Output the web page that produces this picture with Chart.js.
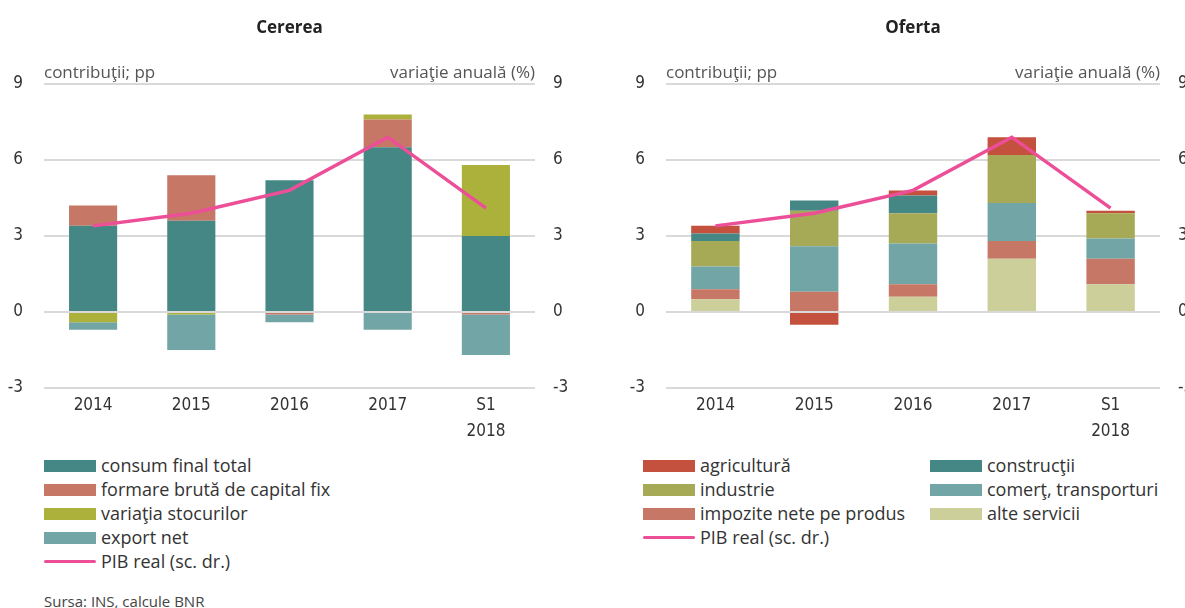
<!DOCTYPE html>
<html>
<head>
<meta charset="utf-8">
<script src="https://cdn.jsdelivr.net/npm/chart.js@4.4.1/dist/chart.umd.min.js"></script>
<style>
  body { margin: 0; width: 1185px; height: 608px; overflow: hidden; background: #fff; font-family: 'Open Sans', sans-serif; color: #333; position: relative; }
  .box { position: absolute; top: 0; width: 590px; height: 445px; }
  .legend { position: absolute; font-size: 18px; }
  .item { position: absolute; height: 24px; line-height: 24px; white-space: nowrap; }
  .sw { position: absolute; left: 0; top: 6px; width: 52px; height: 12px; }
  .ln { position: absolute; left: 0; top: 10px; width: 52px; height: 3px; border-radius: 2px; }
  .item span { position: absolute; left: 57px; top: -1px; }
  .src { position: absolute; left: 44px; top: 591px; font-size: 15px; color: #444; }
</style>
</head>
<body>
<div class="box" style="left:0"><canvas id="chartCerere"></canvas></div>
<div class="box" style="left:622px"><canvas id="chartOferta"></canvas></div>
<div class="legend" id="legendCerere" style="left:44px; top:454px"></div>
<div class="legend" id="legendOferta" style="left:643px; top:454px"></div>
<div class="src">Sursa: INS, calcule BNR</div>
<script>
// Categories and ticks
const categories = [['2014'], ['2015'], ['2016'], ['2017'], ['S1', '2018']];
const axisMin = -3, axisMax = 9, axisStep = 3;

// Cererea (contributions, pp)
const consumFinal = [3.4, 3.6, 5.2, 6.5, 3.0];
const formareCapital = [0.8, 1.8, -0.1, 1.1, -0.1];
const variatiaStocurilor = [-0.4, -0.1, 0, 0.2, 2.8];
const exportNet = [-0.3, -1.4, -0.3, -0.7, -1.6];

// Oferta (contributions, pp)
const agricultura = [0.3, -0.5, 0.2, 0.7, 0.1];
const constructii = [0.3, 0.4, 0.7, 0, 0];
const industrie = [1.0, 1.4, 1.2, 1.9, 1.0];
const comert = [0.9, 1.8, 1.6, 1.5, 0.8];
const impozite = [0.4, 0.8, 0.5, 0.7, 1.0];
const alteServicii = [0.5, 0, 0.6, 2.1, 1.1];

// PIB real (annual change, %, right scale)
const pibReal = [3.4, 3.9, 4.8, 6.9, 4.1];

const C = {
  teal: '#458784', salmon: '#c67766', olive: '#abb13b', lightTeal: '#72a5a5',
  red: '#c4503e', khaki: '#a6a955', pale: '#cccf9a', pink: '#ec4f98', grid: '#d9d9d9'
};

const tickFont = { family: "'Liberation Sans Narrow', 'DejaVu Sans Condensed', sans-serif", size: 17 };

// Titles and axis captions
const captions = {
  id: 'captions',
  afterDraw(chart, args, opts) {
    const { ctx, chartArea } = chart;
    ctx.save();
    ctx.fillStyle = '#222';
    ctx.font = "bold 17px 'Open Sans', sans-serif";
    ctx.textAlign = 'center';
    ctx.textBaseline = 'alphabetic';
    ctx.fillText(opts.title, (chartArea.left + chartArea.right) / 2, 33);
    ctx.fillStyle = '#555';
    ctx.font = "17px 'Open Sans', sans-serif";
    ctx.textAlign = 'left';
    ctx.fillText('contribuţii; pp', chartArea.left, 78);
    ctx.textAlign = 'right';
    ctx.fillText('variaţie anuală (%)', chartArea.right, 78);
    ctx.restore();
  }
};

function makeChart(id, title, bars, rightWidth) {
  const datasets = bars.map(b => ({
    type: 'bar', label: b.label, data: b.data, backgroundColor: b.color,
    yAxisID: 'y', stack: 's', categoryPercentage: 1, barPercentage: 0.49, order: 2
  }));
  datasets.push({
    type: 'line', label: 'PIB real (sc. dr.)', data: pibReal, yAxisID: 'y1',
    borderColor: C.pink, borderWidth: 3.5, pointRadius: 0, fill: false, order: 1
  });
  return new Chart(document.getElementById(id), {
    data: { labels: categories, datasets },
    plugins: [captions],
    options: {
      responsive: true,
      maintainAspectRatio: false,
      animation: false,
      layout: { padding: { top: 84, left: 0, right: 0, bottom: 0 } },
      plugins: { legend: { display: false }, tooltip: { enabled: false }, captions: { title } },
      scales: {
        x: {
          stacked: true,
          grid: { display: false, drawTicks: false },
          border: { display: false },
          ticks: { color: '#333', font: { ...tickFont, lineHeight: 1.5 }, padding: 5, maxRotation: 0 },
          afterFit: s => { s.height = 57; }
        },
        y: {
          stacked: true, position: 'left', min: axisMin, max: axisMax,
          grid: { color: C.grid, lineWidth: 2, drawTicks: false },
          border: { display: false },
          ticks: { stepSize: axisStep, color: '#333', font: tickFont, padding: 21 },
          afterFit: s => { s.width = 44; }
        },
        y1: {
          position: 'right', min: axisMin, max: axisMax,
          grid: { display: false, drawTicks: false },
          border: { display: false },
          ticks: { stepSize: axisStep, color: '#333', font: tickFont, padding: 18 },
          afterFit: s => { s.width = rightWidth; }
        }
      }
    }
  });
}

const cerereBars = [
  { label: 'consum final total', data: consumFinal, color: C.teal },
  { label: 'formare brută de capital fix', data: formareCapital, color: C.salmon },
  { label: 'variaţia stocurilor', data: variatiaStocurilor, color: C.olive },
  { label: 'export net', data: exportNet, color: C.lightTeal }
];
const ofertaBars = [
  { label: 'alte servicii', data: alteServicii, color: C.pale },
  { label: 'impozite nete pe produs', data: impozite, color: C.salmon },
  { label: 'comerţ, transporturi', data: comert, color: C.lightTeal },
  { label: 'industrie', data: industrie, color: C.khaki },
  { label: 'construcţii', data: constructii, color: C.teal },
  { label: 'agricultură', data: agricultura, color: C.red }
];

makeChart('chartCerere', 'Cererea', cerereBars, 55);
makeChart('chartOferta', 'Oferta', ofertaBars, 52);

// HTML legends
function legendItem(label, color, isLine, x, y) {
  const mark = isLine
    ? `<div class="ln" style="background:${color}"></div>`
    : `<div class="sw" style="background:${color}"></div>`;
  return `<div class="item" style="left:${x}px; top:${y}px">${mark}<span>${label}</span></div>`;
}

document.getElementById('legendCerere').innerHTML =
  cerereBars.map((b, i) => legendItem(b.label, b.color, false, 0, i * 24)).join('') +
  legendItem('PIB real (sc. dr.)', C.pink, true, 0, 4 * 24);

const ofertaLegendOrder = ofertaBars.slice().reverse();
document.getElementById('legendOferta').innerHTML =
  ofertaLegendOrder.map((b, i) => legendItem(b.label, b.color, false, (i % 2) * 287, Math.floor(i / 2) * 24)).join('') +
  legendItem('PIB real (sc. dr.)', C.pink, true, 0, 3 * 24);
</script>
</body>
</html>
